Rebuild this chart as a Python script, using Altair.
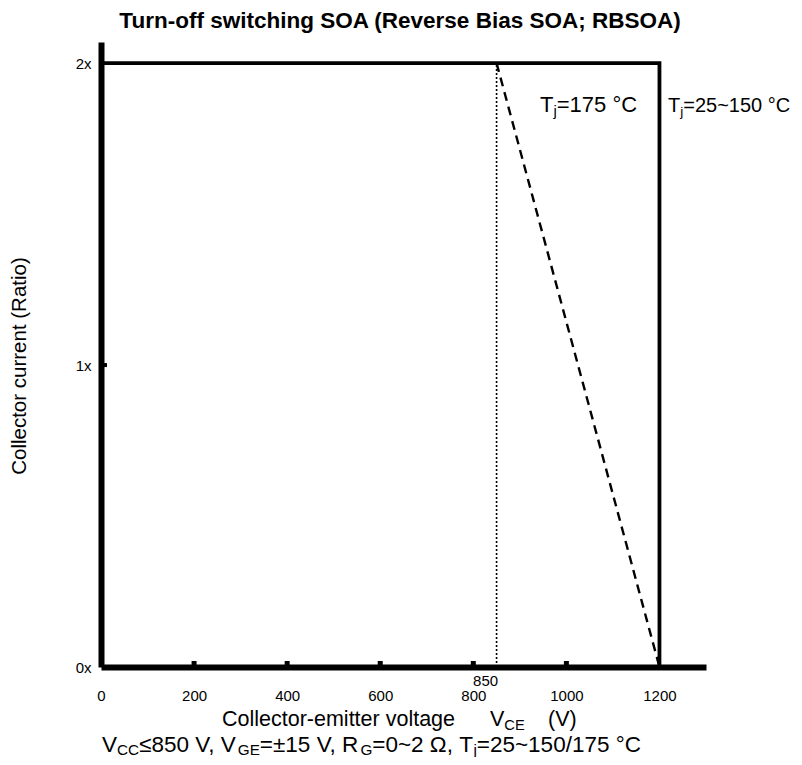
import altair as alt
import pandas as pd

# ---------------- data ----------------
x_tick_values = [0, 200, 400, 600, 800, 1000, 1200]
inner_tick_values = [200, 400, 600, 800, 1000]
y_tick_values = [0, 1, 2]
soa_v = [0, 1200, 1200]          # Tj = 25~150 °C boundary
soa_i = [2, 2, 0]
derate_v = [850, 1200]           # Tj = 175 °C boundary
derate_i = [2, 0]
marker_v = [850, 850]            # V_CC limit marker
marker_i = [0, 2]
marker_label = "850"
x_domain = [0, 1300]
y_domain = [0, 2.07]

title_text = "Turn-off switching SOA (Reverse Bias SOA; RBSOA)"
y_title = "Collector current (Ratio)"
x_title = [("Collector-emitter voltage", False), ("V", False), ("CE", True), ("(V)", False)]
footnote = [("V", False), ("CC", True), ("≤850 V, V", False), ("GE", True),
            ("=±15 V, R", False), ("G", True), ("=0~2 Ω, T", False), ("j", True),
            ("=25~150/175 °C", False)]
ann_175 = [("T", False), ("j", True), ("=175 °C", False)]
ann_150 = [("T", False), ("j", True), ("=25~150 °C", False)]

# ---------------- layout ----------------
FONT = "Liberation Sans"
W, H = 605, 625
LEFT, TOP = 101, 42   # page position of plot area
SVG_W, SVG_H = 786, 749

# Arial / Liberation Sans advance widths (1/1000 em)
ADV = {' ': 278, '(': 333, ')': 333, ',': 278, '-': 333, '.': 278, '/': 278,
       '=': 584, '~': 584, '±': 549, '≤': 549, '°': 400, 'Ω': 768,
       'A': 667, 'B': 667, 'C': 722, 'E': 667, 'G': 778, 'R': 722, 'T': 611,
       'V': 667, 'a': 556, 'c': 500, 'e': 556, 'g': 556, 'i': 222, 'j': 222,
       'l': 222, 'm': 833, 'o': 556, 'r': 333, 't': 278, 'v': 500}
for d in "0123456789":
    ADV[d] = 556


def adv(s):
    return sum(ADV.get(ch, 556) for ch in s) / 1000.0


SUB = 0.68
one = pd.DataFrame({"k": [0]})


def run(segs, x0, y0, size, positions=None, drop=0.2):
    """Text run with subscripts; x0,y0 in page pixels (baseline)."""
    layers = []
    x = x0
    for i, (txt, sub) in enumerate(segs):
        if positions is not None and positions[i] is not None:
            x = positions[i]
        fs = size * SUB if sub else size
        yy = y0 + (size * drop if sub else 0)
        layers.append(
            alt.Chart(one).mark_text(text=txt, align="left", baseline="alphabetic",
                                     fontSize=fs, font=FONT, color="black")
            .encode(x=alt.value(x - LEFT), y=alt.value(yy - TOP))
        )
        x += adv(txt) * fs
    return layers


xs = alt.Scale(domain=x_domain, nice=False, zero=False)
ys = alt.Scale(domain=y_domain, nice=False, zero=False)

x_axis = alt.Axis(values=x_tick_values, title=None, grid=False, ticks=False, format="d",
                  domainColor="black", domainWidth=6, labelFont=FONT, labelFontSize=15,
                  labelColor="black", labelPadding=21, labelFlush=False)
y_axis = alt.Axis(values=y_tick_values, title=None, grid=False, ticks=False,
                  domainColor="black", domainWidth=6, labelFont=FONT, labelFontSize=15,
                  labelColor="black", labelPadding=10, labelExpr="datum.value + 'x'")

soa_df = pd.DataFrame({"v": soa_v, "i": soa_i, "o": list(range(len(soa_v)))})
soa = alt.Chart(soa_df).mark_line(color="black", strokeWidth=3.8, strokeCap="square").encode(
    x=alt.X("v:Q", scale=xs, axis=x_axis),
    y=alt.Y("i:Q", scale=ys, axis=y_axis),
    order="o:O",
)

der_df = pd.DataFrame({"v": derate_v, "i": derate_i})
der = alt.Chart(der_df).mark_line(color="black", strokeWidth=2.4, strokeDash=[9, 6]).encode(
    x=alt.X("v:Q", scale=xs), y=alt.Y("i:Q", scale=ys))

mk_df = pd.DataFrame({"v": marker_v, "i": marker_i})
mk = alt.Chart(mk_df).mark_line(color="black", strokeWidth=1.6, strokeDash=[2, 2]).encode(
    x=alt.X("v:Q", scale=xs), y=alt.Y("i:Q", scale=ys))

tk_df = pd.DataFrame({"v": inner_tick_values})
tk = alt.Chart(tk_df).mark_rule(color="black", strokeWidth=5).encode(
    x=alt.X("v:Q", scale=xs), y=alt.value(H - 6), y2=alt.value(H))

ytk_df = pd.DataFrame({"i": [1]})
ytk = alt.Chart(ytk_df).mark_rule(color="black", strokeWidth=4).encode(
    y=alt.Y("i:Q", scale=ys), x=alt.value(0), x2=alt.value(6))

lab_df = pd.DataFrame({"v": [marker_v[0]], "t": [marker_label]})
lab = alt.Chart(lab_df).mark_text(font=FONT, fontSize=15, color="black", dx=-11,
                                  baseline="alphabetic").encode(
    x=alt.X("v:Q", scale=xs), y=alt.value(686 - TOP), text="t:N")

texts = []
texts += [alt.Chart(one).mark_text(text=title_text, align="center", baseline="alphabetic",
                                   fontSize=22.5, fontWeight="bold", font=FONT, color="black")
          .encode(x=alt.value(400 - LEFT), y=alt.value(28 - TOP))]
texts += [alt.Chart(one).mark_text(text=y_title, align="center", baseline="middle", angle=270,
                                   fontSize=20.5, font=FONT, color="black")
          .encode(x=alt.value(19.5 - LEFT), y=alt.value(366 - TOP))]
texts += run(x_title, 222, 726, 21.5, positions=[222, 490, None, 548], drop=0.18)
texts += run(footnote, 102, 752, 22.5, drop=0.14)
texts += run(ann_175, 540, 112, 22)
texts += run(ann_150, 668, 112, 20)

chart = alt.layer(soa, der, mk, tk, ytk, lab, *texts).properties(
    width=W, height=H,
    autosize=alt.AutoSizeParams(type="none"),
    padding={"left": LEFT - 8, "top": TOP - 8,
             "right": SVG_W - (LEFT - 8) - W, "bottom": SVG_H - (TOP - 8) - H},
).configure_view(stroke=None)

chart.save("out.html", embed_options={"renderer": "svg", "actions": False})
